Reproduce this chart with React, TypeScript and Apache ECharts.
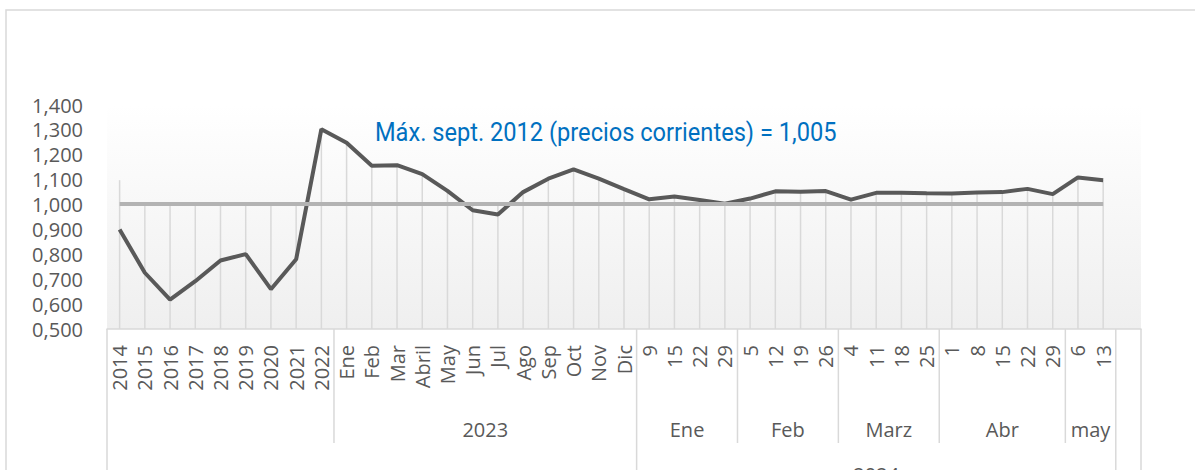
import React, { useEffect, useRef } from 'react';
import * as echarts from 'echarts';

// ---- data ----
const tickLabels = [
  '2014', '2015', '2016', '2017', '2018', '2019', '2020', '2021', '2022',
  'Ene', 'Feb', 'Mar', 'Abril', 'May', 'Jun', 'Jul', 'Ago', 'Sep', 'Oct', 'Nov', 'Dic',
  '9', '15', '22', '29',
  '5', '12', '19', '26',
  '4', '11', '18', '25',
  '1', '8', '15', '22', '29',
  '6', '13',
  '',
];

const prices = [
  0.900, 0.726, 0.618, 0.692, 0.775, 0.801, 0.660, 0.780, 1.303,
  1.248, 1.156, 1.158, 1.122, 1.055, 0.977, 0.960, 1.050, 1.104, 1.141, 1.104, 1.062,
  1.021, 1.032, 1.018, 1.003,
  1.024, 1.053, 1.051, 1.054,
  1.020, 1.047, 1.047, 1.045,
  1.044, 1.048, 1.050, 1.063, 1.042,
  1.109, 1.098,
  null,
];

// hidden helper series (only affects the drop line at the first category)
const hiddenSeries = [1.098];

const MAX_REF = 1.005;
const refLabel = 'Máx. sept. 2012 (precios corrientes) = 1,005';

const level2Groups = [
  { label: '', count: 9 },
  { label: '2023', count: 12 },
  { label: 'Ene', count: 4 },
  { label: 'Feb', count: 4 },
  { label: 'Marz', count: 4 },
  { label: 'Abr', count: 5 },
  { label: 'may', count: 2 },
  { label: '', count: 1 },
];
const level3Groups = [
  { label: '', count: 21 },
  { label: '2024', count: 19 },
  { label: '', count: 1 },
];

const Y_MIN = 0.5;
const Y_MAX = 1.4;
const Y_STEP = 0.1;

const fmt = (v: number) => v.toFixed(3).replace('.', ',');

const TEXT = '#595959';
const FONT = 'Open Sans';

export default function App() {
  const ref = useRef<HTMLDivElement>(null);

  useEffect(() => {
    const el = ref.current!;
    const chart = echarts.init(el, undefined, { renderer: 'svg' });
    const lastIdx = prices.reduce((acc: number, v, i) => (v != null ? i : acc), 0);

    const dropData = prices
      .map((v, i) => {
        if (v == null) return null;
        const h = hiddenSeries[i] != null ? hiddenSeries[i] : -Infinity;
        return [i, Math.max(v, MAX_REF, h)];
      })
      .filter((d) => d != null);

    chart.setOption({
      animation: false,
      grid: {
        left: 107,
        right: 54,
        top: 105,
        bottom: 141,
        show: true,
        borderWidth: 0,
        backgroundColor: new echarts.graphic.LinearGradient(0, 0, 0, 1, [
          { offset: 0, color: '#ffffff' },
          { offset: 1, color: '#efefef' },
        ]),
      },
      xAxis: {
        type: 'category',
        data: tickLabels.map((_, i) => 'c' + i),
        boundaryGap: true,
        axisLine: { show: true, lineStyle: { color: '#d9d9d9', width: 1.5 } },
        axisTick: { show: false },
        axisLabel: {
          interval: 0,
          rotate: 90,
          margin: 16,
          color: TEXT,
          fontFamily: FONT,
          fontSize: 20,
          formatter: (_v: string, i: number) => tickLabels[i],
        },
        splitLine: { show: false },
      },
      yAxis: {
        type: 'value',
        min: Y_MIN,
        max: Y_MAX,
        interval: Y_STEP,
        axisLine: { show: false },
        axisTick: { show: false },
        splitLine: { show: false },
        axisLabel: {
          margin: 24,
          color: TEXT,
          fontFamily: FONT,
          fontSize: 20,
          formatter: (v: number) => fmt(v),
        },
      },
      series: [
        {
          type: 'custom',
          name: 'drop',
          z: 1,
          silent: true,
          data: dropData,
          renderItem: (_params: any, api: any) => {
            const x = api.value(0);
            const top = api.coord([x, api.value(1)]);
            const bottom = api.coord([x, Y_MIN]);
            return {
              type: 'line',
              shape: { x1: top[0], y1: top[1], x2: bottom[0], y2: bottom[1] },
              style: { stroke: '#d9d9d9', lineWidth: 1.5 },
            };
          },
        },
        {
          type: 'line',
          name: 'ref',
          z: 2,
          data: [],
          markLine: {
            silent: true,
            symbol: 'none',
            label: { show: false },
            lineStyle: { color: '#b3b3b3', width: 4, type: 'solid' },
            data: [[{ coord: [0, MAX_REF] }, { coord: [lastIdx, MAX_REF] }]],
          },
        },
        {
          type: 'line',
          name: 'precio',
          z: 3,
          showSymbol: false,
          symbol: 'none',
          lineStyle: { color: '#595959', width: 4 },
          itemStyle: { color: '#595959' },
          data: prices.map((v, i) =>
            i === lastIdx
              ? {
                  value: v,
                  label: {
                    show: true,
                    position: 'right',
                    distance: 22,
                    color: TEXT,
                    fontFamily: FONT,
                    fontSize: 20,
                    formatter: (p: any) => fmt(p.value),
                  },
                }
              : v
          ),
        },
      ],
    });

    // category geometry through the axis scale
    const c0 = chart.convertToPixel({ xAxisIndex: 0 }, 0) as number;
    const c1 = chart.convertToPixel({ xAxisIndex: 0 }, 1) as number;
    const w = c1 - c0;
    const edge = (k: number) => c0 - w / 2 + k * w;
    const axisY = chart.convertToPixel({ yAxisIndex: 0 }, Y_MIN) as number;

    const graphics: any[] = [];
    graphics.push({
      type: 'rect',
      silent: true,
      shape: { x: 6, y: 10, width: 1400, height: 900 },
      style: { fill: 'none', stroke: '#d9d9d9', lineWidth: 1.5 },
    });
    graphics.push({
      type: 'text',
      silent: true,
      x: 375,
      y: 132,
      scaleX: 0.945,
      style: {
        text: refLabel,
        fill: '#0070c0',
        font: '25px Roboto',
        textVerticalAlign: 'middle',
        textAlign: 'left',
      },
    });

    const l2Bottom = axisY + 114;
    const l3Bottom = 900;
    const vline = (x: number, y2: number) => ({
      type: 'line',
      silent: true,
      shape: { x1: x, y1: axisY, x2: x, y2 },
      style: { stroke: '#d9d9d9', lineWidth: 1.5 },
    });

    // level 3 boundaries
    const l3Edges: number[] = [0];
    let k = 0;
    level3Groups.forEach((g) => {
      const s = k;
      k += g.count;
      l3Edges.push(k);
      if (g.label) {
        graphics.push({
          type: 'text',
          silent: true,
          x: (edge(s) + edge(k)) / 2,
          y: axisY + 145,
          style: { text: g.label, fill: TEXT, font: `20px "${FONT}"`, textAlign: 'center', textVerticalAlign: 'middle' },
        });
      }
    });
    l3Edges.forEach((e) => graphics.push(vline(edge(e), l3Bottom)));

    k = 0;
    level2Groups.forEach((g) => {
      const s = k;
      k += g.count;
      if (!l3Edges.includes(k)) graphics.push(vline(edge(k), l2Bottom));
      if (g.label) {
        graphics.push({
          type: 'text',
          silent: true,
          x: (edge(s) + edge(k)) / 2,
          y: axisY + 100,
          style: { text: g.label, fill: TEXT, font: `20px "${FONT}"`, textAlign: 'center', textVerticalAlign: 'middle' },
        });
      }
    });

    chart.setOption({ graphic: graphics });

    return () => chart.dispose();
  }, []);

  return (
    <div
      style={{ position: 'fixed', left: 0, top: 0, width: 1195, height: 470, overflow: 'hidden', background: '#fff' }}
    >
      <div ref={ref} style={{ width: 1195, height: 470 }} />
    </div>
  );
}
